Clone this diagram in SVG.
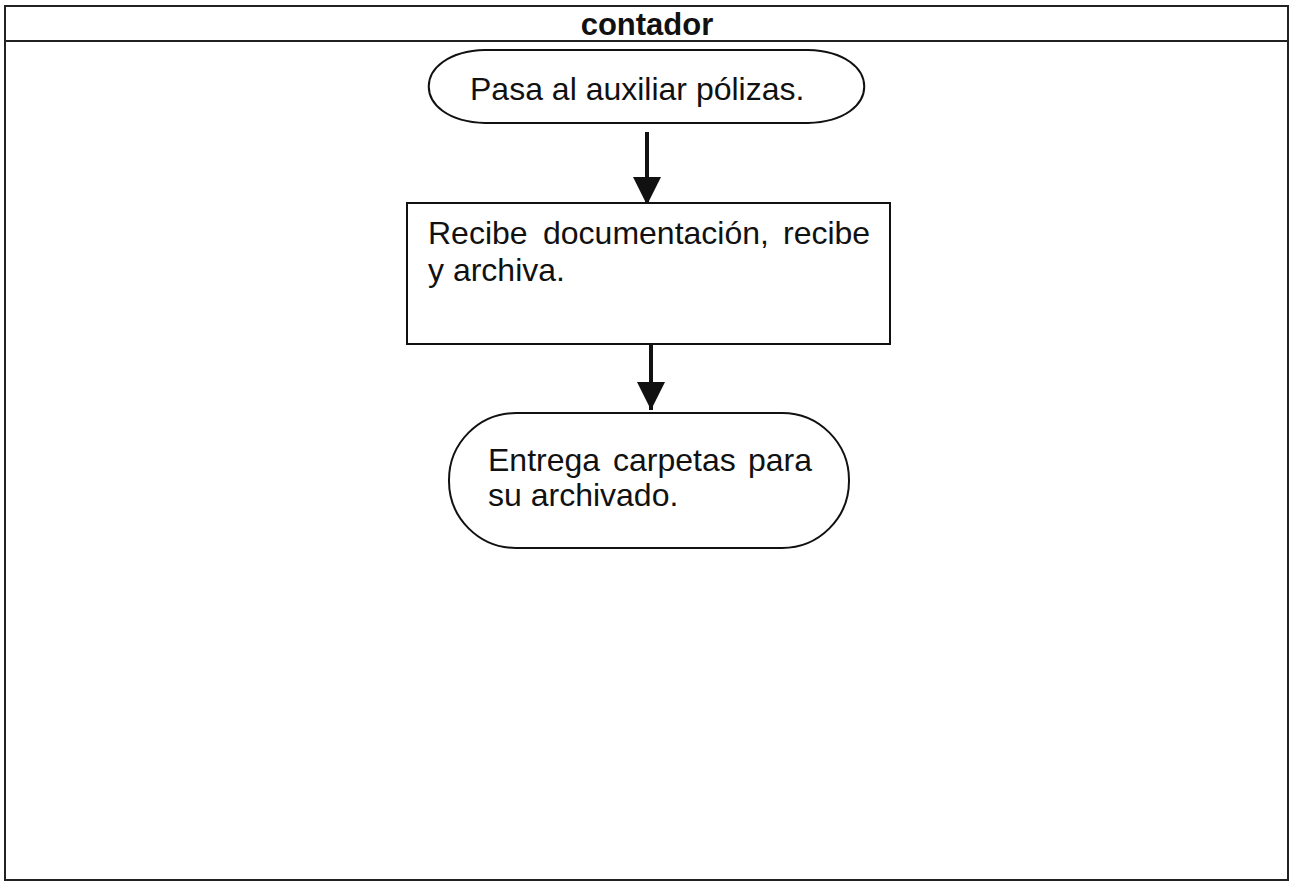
<svg xmlns="http://www.w3.org/2000/svg" width="1291" height="883" viewBox="0 0 1291 883">
<style>
.shape{fill:#fff;stroke:#111;stroke-width:2}
.t{font-family:"Liberation Sans",Arial,sans-serif;font-size:32px;fill:#111}
.title{font-family:"Liberation Sans",Arial,sans-serif;font-size:31px;font-weight:bold;fill:#111}
.conn{stroke:#111;stroke-width:4;fill:none}
</style>
<defs>
<marker id="ah" markerWidth="6.5" markerHeight="7" refX="7" refY="3.5" orient="auto" markerUnits="strokeWidth">
<path d="M0,0 L7,3.5 L0,7 Z" fill="#111"/>
</marker>
</defs>
<rect width="1291" height="883" fill="#fff"/>
<g id="pool">
<rect x="5" y="6" width="1283" height="874" fill="none" stroke="#222" stroke-width="2"/>
<line x1="5" y1="41" x2="1288" y2="41" stroke="#222" stroke-width="2"/>
<text class="title" x="647" y="35" text-anchor="middle">contador</text>
</g>
<g id="connectors">
<line class="conn" x1="647" y1="132" x2="647" y2="205" marker-end="url(#ah)"/>
<line class="conn" x1="651" y1="344" x2="651" y2="410" marker-end="url(#ah)"/>
</g>
<g id="start">
<path class="shape" d="M485,50 L808,50 C883,52 883,121 808,123 L485,123 C410,121 410,52 485,50 Z"/>
<text class="t" x="470" y="100">Pasa al auxiliar pólizas.</text>
</g>
<g id="process">
<rect class="shape" x="407" y="203" width="483" height="141"/>
<text class="t" y="244"><tspan x="428">Recibe</tspan><tspan x="543">documentación,</tspan><tspan x="783">recibe</tspan></text>
<text class="t" x="428" y="281">y archiva.</text>
</g>
<g id="end">
<rect class="shape" x="449" y="413" width="400" height="135" rx="67" ry="67"/>
<text class="t" y="471"><tspan x="488">Entrega</tspan><tspan x="613">carpetas</tspan><tspan x="748">para</tspan></text>
<text class="t" x="488" y="506">su archivado.</text>
</g>
</svg>
